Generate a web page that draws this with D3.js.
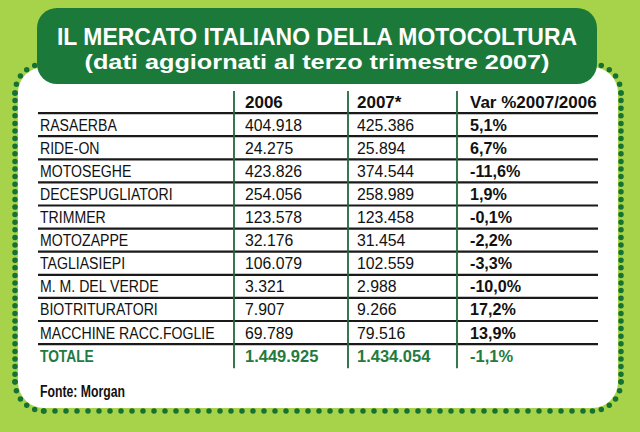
<!DOCTYPE html>
<meta charset="utf-8">
<head>
    <title>Motocoltura</title>
    <style>
        body { margin: 0; background: #a7d34b; }
        svg { display: block; }
    </style>
</head>

<script src="https://d3js.org/d3.v7.min.js"></script>

<div id="dataVis"></div>

<script>

    // table data
    var categories = ["RASAERBA", "RIDE-ON", "MOTOSEGHE", "DECESPUGLIATORI", "TRIMMER", "MOTOZAPPE",
        "TAGLIASIEPI", "M. M. DEL VERDE", "BIOTRITURATORI", "MACCHINE RACC.FOGLIE"];
    var values2006 = ["404.918", "24.275", "423.826", "254.056", "123.578", "32.176", "106.079", "3.321", "7.907", "69.789"];
    var values2007 = ["425.386", "25.894", "374.544", "258.989", "123.458", "31.454", "102.559", "2.988", "9.266", "79.516"];
    var variation = ["5,1%", "6,7%", "-11,6%", "1,9%", "-0,1%", "-2,2%", "-3,3%", "-10,0%", "17,2%", "13,9%"];
    var headers = ["", "2006", "2007*", "Var %2007/2006"];
    var totalRow = ["TOTALE", "1.449.925", "1.434.054", "-1,1%"];

    var width = 640, height = 432;
    var green = "#1b7a3a";
    var font = "'Liberation Sans', Arial, sans-serif";

    var svg = d3.select("#dataVis")
        .append("svg")
        .attr("width", width)
        .attr("height", height);

    // background
    svg.append("rect").attr("width", width).attr("height", height).attr("fill", "#a7d34b");

    // white card
    var card = { x: 18, y: 67, w: 600, h: 341, r: 26 };
    svg.append("rect")
        .attr("x", card.x).attr("y", card.y)
        .attr("width", card.w).attr("height", card.h)
        .attr("rx", card.r).attr("fill", "#fff");

    // dotted border: sides get different dot spacing like the original
    var o = 3, x0 = card.x - o, y0 = card.y - o, x1 = card.x + card.w + o, y1 = card.y + card.h + o, r = card.r + o;
    var sides = [
        { d: "M" + x0 + "," + (y0 + r) + "L" + x0 + "," + (y1 - r), gap: 7.6 },
        { d: "M" + x1 + "," + (y0 + r) + "L" + x1 + "," + (y1 - r), gap: 7.6 },
        { d: "M" + (x0 + r) + "," + y1 + "L" + (x1 - r) + "," + y1, gap: 11 },
        { d: "M" + x0 + "," + (y1 - r) + "A" + r + "," + r + " 0 0 0 " + (x0 + r) + "," + y1, gap: 9 },
        { d: "M" + x1 + "," + (y1 - r) + "A" + r + "," + r + " 0 0 1 " + (x1 - r) + "," + y1, gap: 9 },
        { d: "M" + x0 + "," + (y0 + r) + "A" + r + "," + r + " 0 0 1 " + (x0 + r) + "," + y0, gap: 9 },
        { d: "M" + x1 + "," + (y0 + r) + "A" + r + "," + r + " 0 0 0 " + (x1 - r) + "," + y0, gap: 9 }
    ];
    svg.append("g")
        .selectAll("path")
        .data(sides)
        .enter()
        .append("path")
        .attr("d", function (d) { return d.d; })
        .attr("fill", "none")
        .attr("stroke", "#167232")
        .attr("stroke-width", 5.5)
        .attr("stroke-linecap", "round")
        .attr("stroke-dasharray", function (d) { return "0," + d.gap; });

    // title box
    svg.append("rect")
        .attr("x", 37).attr("y", 8)
        .attr("width", 560).attr("height", 76)
        .attr("rx", 20).attr("fill", green);

    svg.append("text")
        .attr("x", 317).attr("y", 45)
        .attr("text-anchor", "middle")
        .attr("textLength", 520).attr("lengthAdjust", "spacingAndGlyphs")
        .style("font-family", font).style("font-weight", "bold").style("font-size", "24px")
        .attr("fill", "#fff")
        .text("IL MERCATO ITALIANO DELLA MOTOCOLTURA");

    svg.append("text")
        .attr("x", 317).attr("y", 69)
        .attr("text-anchor", "middle")
        .attr("textLength", 465).attr("lengthAdjust", "spacingAndGlyphs")
        .style("font-family", font).style("font-weight", "bold").style("font-size", "21px")
        .attr("fill", "#fff")
        .text("(dati aggiornati al terzo trimestre 2007)");

    // rows: header + categories + total
    var rowKeys = ["header"].concat(categories).concat(["TOTALE"]);
    var y = d3.scaleBand()
        .domain(rowKeys)
        .range([90, 90 + 12 * 23.1]);

    // columns
    var colKeys = ["label", "v2006", "v2007", "var"];
    var x = d3.scaleOrdinal().domain(colKeys).range([40, 245, 357, 470]);
    var sep = d3.scaleOrdinal().domain(["v2006", "v2007", "var"]).range([234, 348, 457]);

    // horizontal rules under header and every category row
    svg.append("g")
        .selectAll("line")
        .data(rowKeys.slice(0, 11))
        .enter()
        .append("line")
        .attr("x1", 38).attr("x2", 598)
        .attr("y1", function (d) { return y(d) + y.bandwidth(); })
        .attr("y2", function (d) { return y(d) + y.bandwidth(); })
        .attr("stroke", "#1a1a1a")
        .attr("stroke-width", 2.2);

    // vertical green rules
    svg.append("g")
        .selectAll("line")
        .data(sep.domain())
        .enter()
        .append("line")
        .attr("x1", function (d) { return sep(d); })
        .attr("x2", function (d) { return sep(d); })
        .attr("y1", y("header") + 1)
        .attr("y2", y("TOTALE") + y.bandwidth() + 1)
        .attr("stroke", "#1f6a3e")
        .attr("stroke-width", 1.8);

    // build cells
    var cells = [];
    headers.forEach(function (h, i) {
        if (h) cells.push({ row: "header", col: colKeys[i], text: h, bold: true, size: 17, sx: 1.0, fill: "#111" });
    });
    categories.forEach(function (c, i) {
        cells.push({ row: c, col: "label", text: c, bold: false, size: 17, sx: 0.83, fill: "#111" });
        cells.push({ row: c, col: "v2006", text: values2006[i], bold: false, size: 17, sx: 0.93, fill: "#111" });
        cells.push({ row: c, col: "v2007", text: values2007[i], bold: false, size: 17, sx: 0.93, fill: "#111" });
        cells.push({ row: c, col: "var", text: variation[i], bold: true, size: 17, sx: 0.95, fill: "#111" });
    });
    totalRow.forEach(function (t, i) {
        cells.push({ row: "TOTALE", col: colKeys[i], text: t, bold: true, size: 17, sx: i === 0 ? 0.81 : 0.97, fill: "#237a3e" });
    });

    svg.append("g")
        .selectAll("text")
        .data(cells)
        .enter()
        .append("text")
        .attr("transform", function (d) {
            return "translate(" + x(d.col) + "," + (y(d.row) + y.bandwidth() / 2 + 6) + ") scale(" + d.sx + ",1)";
        })
        .style("font-family", font)
        .style("font-weight", function (d) { return d.bold ? "bold" : "normal"; })
        .style("font-size", function (d) { return d.size + "px"; })
        .attr("fill", function (d) { return d.fill; })
        .text(function (d) { return d.text; });

    // source
    svg.append("text")
        .attr("transform", "translate(40,397) scale(0.72,1)")
        .style("font-family", font).style("font-weight", "bold").style("font-size", "17px")
        .attr("fill", "#111")
        .text("Fonte: Morgan");

</script>
